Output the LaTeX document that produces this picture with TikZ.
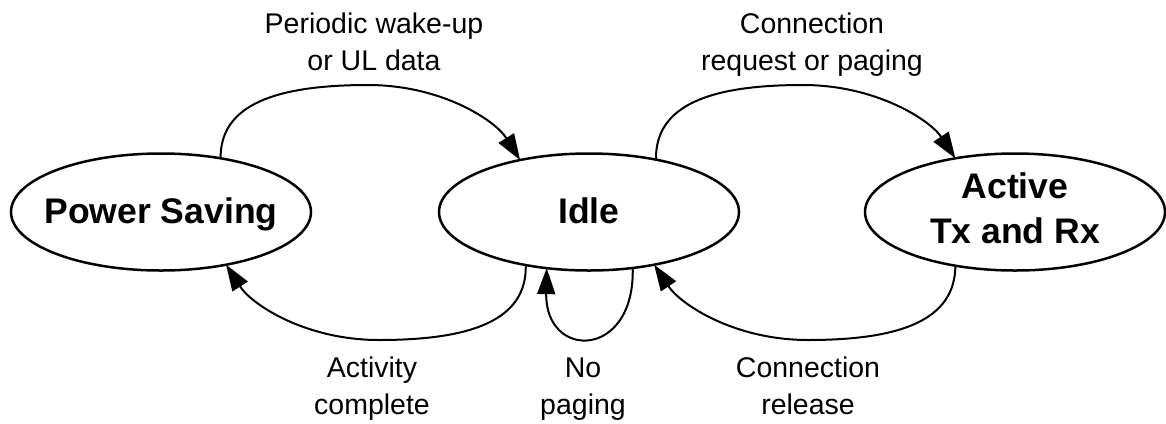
\documentclass[tikz,border=0pt]{standalone}
\usepackage{fontspec}
\setmainfont{Liberation Sans}
\usetikzlibrary{shapes.geometric,arrows.meta}
\begin{document}
\begin{tikzpicture}[x=1bp,y=-1bp,
  state/.style={ellipse,draw,line width=2.5bp,minimum width=300bp,minimum height=117bp,inner sep=0pt,outer sep=0pt},
  stext/.style={font=\fontsize{35.7}{45}\selectfont\bfseries,align=center,inner sep=0pt,anchor=base},
  lbl/.style={font=\fontsize{28.6}{37}\selectfont,align=center,inner sep=0pt,anchor=base},
  conn/.style={line width=2bp,-{Triangle[length=26bp,width=18bp]}}]
\useasboundingbox (0,0) rectangle (1166,423);
% states
\node[state] (ps) at (161,212) {};
\node[state] (idle) at (589,212) {};
\node[state] (act) at (1015,212) {};
\node[stext] (pst) at (161,223) {Power Saving};
\node[stext] (idlet) at (589,223) {Idle};
\node[stext] (actt) at (1015,243) {Active\\Tx and Rx};
% waypoints
\coordinate (t1) at (368,85);
\coordinate (t2) at (803,85);
\coordinate (b1) at (379,340);
\coordinate (b2) at (808,340);
% connectors
\draw[conn] (ps.42) .. controls (220,105) and (275,85) .. (t1)
  .. controls (441,85) and (495,120) .. (idle.143);
\draw[conn] (idle.38) .. controls (655,105) and (710,85) .. (t2)
  .. controls (876,85) and (930,120) .. (act.138);
\draw[conn] (idle.220) .. controls (527,320) and (472,340) .. (b1)
  .. controls (306,340) and (252,305) .. (ps.-39);
\draw[conn] (act.222) .. controls (955,320) and (901,340) .. (b2)
  .. controls (735,340) and (681,305) .. (idle.-39);
\draw[conn] (idle.-52) .. controls (635,360) and (545,360) .. (idle.233);
% labels
\node[lbl] (l1) at (374,70) {Periodic wake-up\\or UL data};
\node[lbl] (l2) at (812,70) {Connection\\request or paging};
\node[lbl] (l3) at (372,414) {Activity\\complete};
\node[lbl] (l4) at (583,414) {No\\paging};
\node[lbl] (l5) at (808,414) {Connection\\release};
\end{tikzpicture}
\end{document}
